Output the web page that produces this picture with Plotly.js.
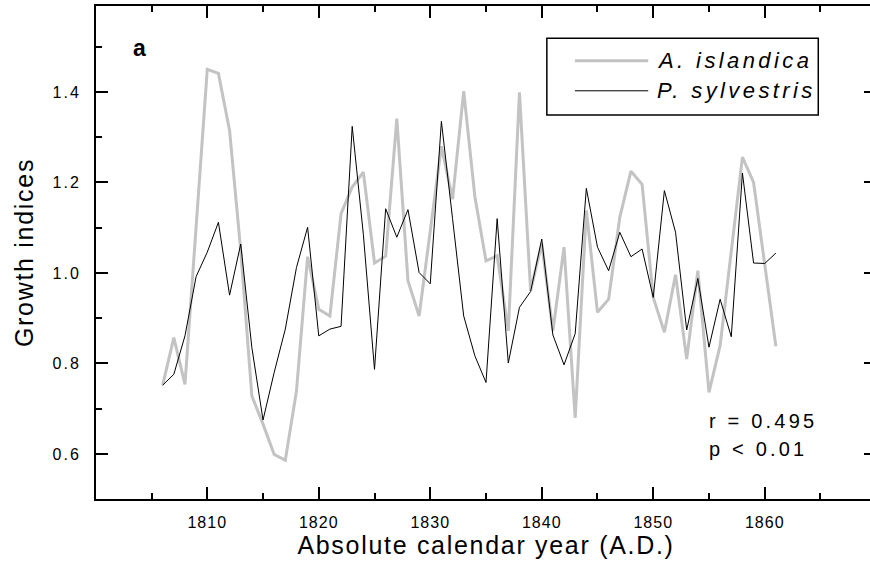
<!DOCTYPE html>
<html>
<head>
<meta charset="utf-8">
<script src="https://cdn.plot.ly/plotly-3.0.1.min.js"></script>
<style>
  html, body { margin: 0; padding: 0; overflow: hidden; background: #fff; }
  #chart { width: 880px; height: 562px; }
  g.xtick text { letter-spacing: 1px; }
  g.ytick text { letter-spacing: 2px; }
  text.xtitle, text.ytitle { letter-spacing: 1.7px; }
</style>
</head>
<body>
<div id="chart"></div>
<script>
// ---- data ----
var years = [1806,1807,1808,1809,1810,1811,1812,1813,1814,1815,1816,1817,1818,1819,1820,
             1821,1822,1823,1824,1825,1826,1827,1828,1829,1830,1831,1832,1833,1834,1835,
             1836,1837,1838,1839,1840,1841,1842,1843,1844,1845,1846,1847,1848,1849,1850,
             1851,1852,1853,1854,1855,1856,1857,1858,1859,1860,1861];

var islandica = [0.752,0.857,0.754,1.100,1.450,1.441,1.315,1.050,0.728,0.666,0.599,0.586,0.739,1.036,0.920,
                 0.905,1.131,1.190,1.223,1.022,1.037,1.341,0.983,0.905,1.090,1.280,1.163,1.402,1.169,1.027,
                 1.038,0.872,1.399,0.961,1.065,0.872,1.057,0.680,1.138,0.913,0.942,1.123,1.225,1.196,0.946,
                 0.869,0.996,0.810,1.005,0.736,0.840,1.050,1.256,1.200,1.020,0.838];

var sylvestris = [0.752,0.776,0.861,0.992,1.046,1.112,0.951,1.064,0.835,0.675,0.780,0.876,1.012,1.101,0.861,
                  0.876,0.882,1.324,1.085,0.787,1.142,1.079,1.140,1.001,0.976,1.335,1.120,0.905,0.817,0.758,
                  1.120,0.801,0.924,0.959,1.075,0.863,0.797,0.866,1.187,1.057,1.005,1.090,1.036,1.053,0.946,
                  1.182,1.090,0.874,0.988,0.836,0.942,0.859,1.221,1.022,1.021,1.044];

var seriesNames = ["A. islandica", "P. sylvestris"];
var statsText = ["r = 0.495", "p < 0.01"];

var FONT = "Liberation Sans, Arial, Helvetica, sans-serif";
var GRAY = "#c3c3c3";

var traces = [
  { x: years, y: islandica, type: "scatter", mode: "lines", name: seriesNames[0],
    line: { color: GRAY, width: 3 }, showlegend: false },
  { x: years, y: sylvestris, type: "scatter", mode: "lines", name: seriesNames[1],
    line: { color: "#000000", width: 1 }, showlegend: false }
];

// manual legend (box + sample lines + labels), in paper coordinates
var lgX0 = 0.578, lgX1 = 0.926, lgY0 = 0.7789, lgY1 = 0.9345;
var lgLineX0 = 0.614, lgLineX1 = 0.708, lgTextX = 0.717;
var lgRowY = [0.889, 0.828];

var shapes = [
  { type: "rect", xref: "paper", yref: "paper", x0: lgX0, x1: lgX1, y0: lgY0, y1: lgY1,
    line: { color: "#000", width: 1.5 }, fillcolor: "rgba(0,0,0,0)" },
  { type: "line", xref: "paper", yref: "paper", x0: lgLineX0, x1: lgLineX1, y0: lgRowY[0], y1: lgRowY[0],
    line: { color: GRAY, width: 3 } },
  { type: "line", xref: "paper", yref: "paper", x0: lgLineX0, x1: lgLineX1, y0: lgRowY[1], y1: lgRowY[1],
    line: { color: "#000", width: 1 } }
];

function spaced(s, px) { return '<span style="letter-spacing:' + px + 'px">' + s + '</span>'; }

var annotations = [
  { text: "<b>a</b>", xref: "paper", yref: "paper", x: 0.0564, y: 0.9148,
    showarrow: false, xanchor: "center", yanchor: "middle", font: { family: FONT, size: 23, color: "#000" } },
  { text: spaced(seriesNames[0], 3.4), xref: "paper", yref: "paper", x: lgTextX, y: lgRowY[0],
    showarrow: false, xanchor: "left", yanchor: "middle",
    font: { family: FONT, size: 22, color: "#000", style: "italic" } },
  { text: spaced(seriesNames[1], 3.4), xref: "paper", yref: "paper", x: lgTextX, y: lgRowY[1],
    showarrow: false, xanchor: "left", yanchor: "middle",
    font: { family: FONT, size: 22, color: "#000", style: "italic" } },
  { text: spaced(statsText[0], 3.2), xref: "paper", yref: "paper", x: 0.783, y: 0.158,
    showarrow: false, xanchor: "left", yanchor: "middle", font: { family: FONT, size: 20, color: "#000" } },
  { text: spaced(statsText[1], 3.2), xref: "paper", yref: "paper", x: 0.783, y: 0.1014,
    showarrow: false, xanchor: "left", yanchor: "middle", font: { family: FONT, size: 20, color: "#000" } }
];

var layout = {
  width: 880, height: 562,
  margin: { l: 96, r: 4, t: 6, b: 63, pad: 0 },
  paper_bgcolor: "#fff", plot_bgcolor: "#fff",
  font: { family: FONT, color: "#000" },
  showlegend: false,
  xaxis: {
    range: [1800.02, 1869.98], showgrid: false, zeroline: false,
    showline: true, linecolor: "#000", linewidth: 2, mirror: "ticks",
    ticks: "inside", ticklen: 12, tickwidth: 2, tickcolor: "#000",
    tickmode: "linear", tick0: 1810, dtick: 10,
    ticklabelstandoff: 8,
    tickfont: { family: FONT, size: 16, color: "#000" },
    minor: { tickmode: "linear", dtick: 5, tick0: 1805, ticks: "inside", ticklen: 6, tickwidth: 2, tickcolor: "#000", showgrid: false },
    title: { text: "Absolute calendar year (A.D.)", font: { family: FONT, size: 25, color: "#000" }, standoff: 6 }
  },
  yaxis: {
    range: [0.5005, 1.59], showgrid: false, zeroline: false,
    showline: true, linecolor: "#000", linewidth: 2, mirror: "ticks",
    ticks: "inside", ticklen: 12, tickwidth: 2, tickcolor: "#000",
    tickmode: "linear", tick0: 0.6, dtick: 0.2, tickformat: ".1f",
    ticklabelstandoff: 10,
    tickfont: { family: FONT, size: 16, color: "#000" },
    minor: { tickmode: "linear", dtick: 0.1, tick0: 0.5, ticks: "inside", ticklen: 6, tickwidth: 2, tickcolor: "#000", showgrid: false },
    title: { text: "Growth indices", font: { family: FONT, size: 25, color: "#000" }, standoff: 12 }
  },
  shapes: shapes,
  annotations: annotations
};

Plotly.newPlot("chart", traces, layout, { displayModeBar: false, staticPlot: true });
</script>
</body>
</html>
